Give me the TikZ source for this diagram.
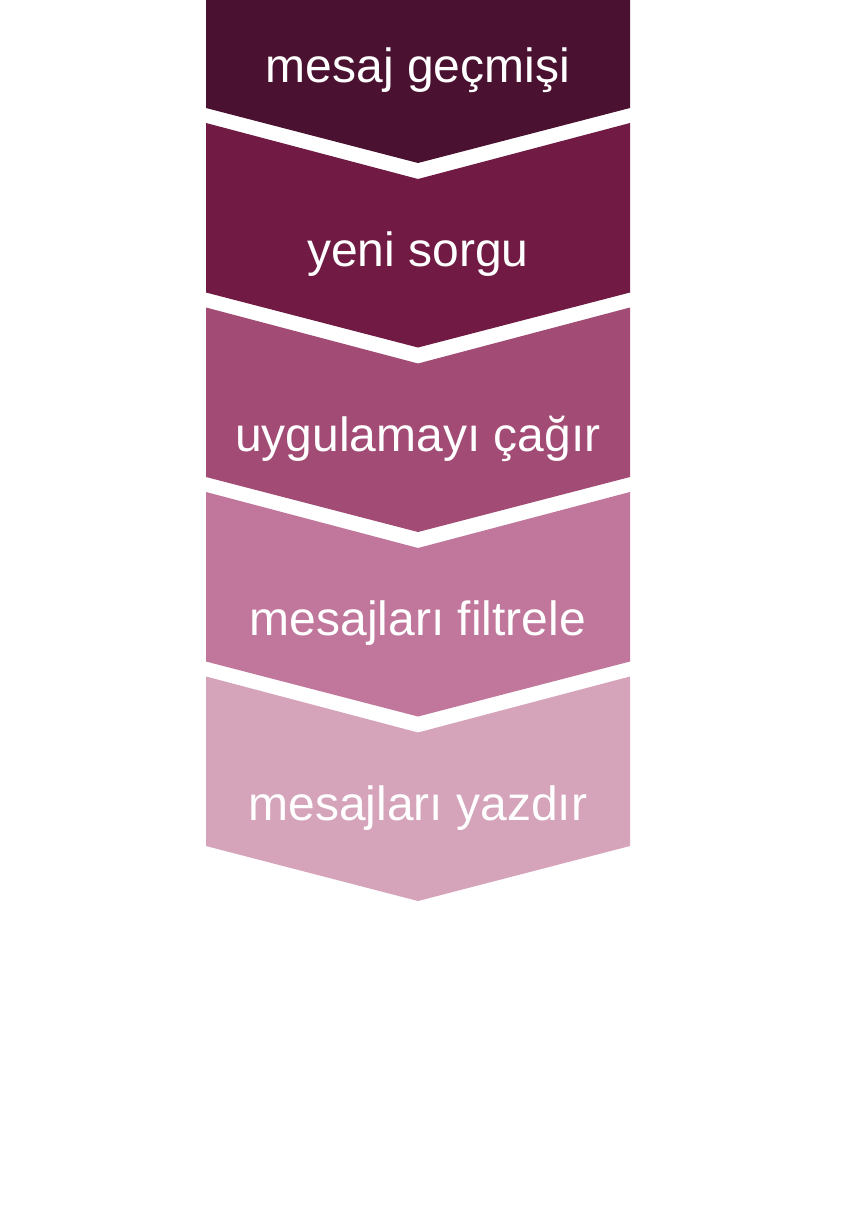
\documentclass[tikz,border=0pt]{standalone}
\usepackage{fontspec}
\setmainfont{Liberation Sans}
\definecolor{cA}{HTML}{4A1230}
\definecolor{cB}{HTML}{701A44}
\definecolor{cC}{HTML}{A24B74}
\definecolor{cD}{HTML}{C0779B}
\definecolor{cE}{HTML}{D5A4BA}
\begin{document}
\begin{tikzpicture}[x=1pt,y=-1pt,
  label/.style={text=white,anchor=base,inner sep=0pt,font=\fontsize{48}{58}\selectfont}]
\useasboundingbox (0,0) rectangle (864,1232);
\fill[white] (0,0) rectangle (864,1232);
% shape 1 (flat top)
\fill[cA] (206,0) -- (630,0) -- (630,108) -- (418,163) -- (206,108) -- cycle;
% shape 2
\fill[cB] (206,123) -- (418,179) -- (630,123) -- (630,292.5) -- (418,347.5) -- (206,292.5) -- cycle;
% shape 3
\fill[cC] (206,307.5) -- (418,363.5) -- (630,307.5) -- (630,477) -- (418,532) -- (206,477) -- cycle;
% shape 4
\fill[cD] (206,492) -- (418,548) -- (630,492) -- (630,661.5) -- (418,716.5) -- (206,661.5) -- cycle;
% shape 5
\fill[cE] (206,676.5) -- (418,732.5) -- (630,676.5) -- (630,846) -- (418,901) -- (206,846) -- cycle;
\node[label] (t1) at (418,82) {mesaj geçmişi};
\node[label] (t2) at (418,266.5) {yeni sorgu};
\node[label] (t3) at (418,451) {uygulamayı çağır};
\node[label] (t4) at (418,635.5) {mesajları filtrele};
\node[label] (t5) at (418,820) {mesajları yazdır};
\end{tikzpicture}
\end{document}
